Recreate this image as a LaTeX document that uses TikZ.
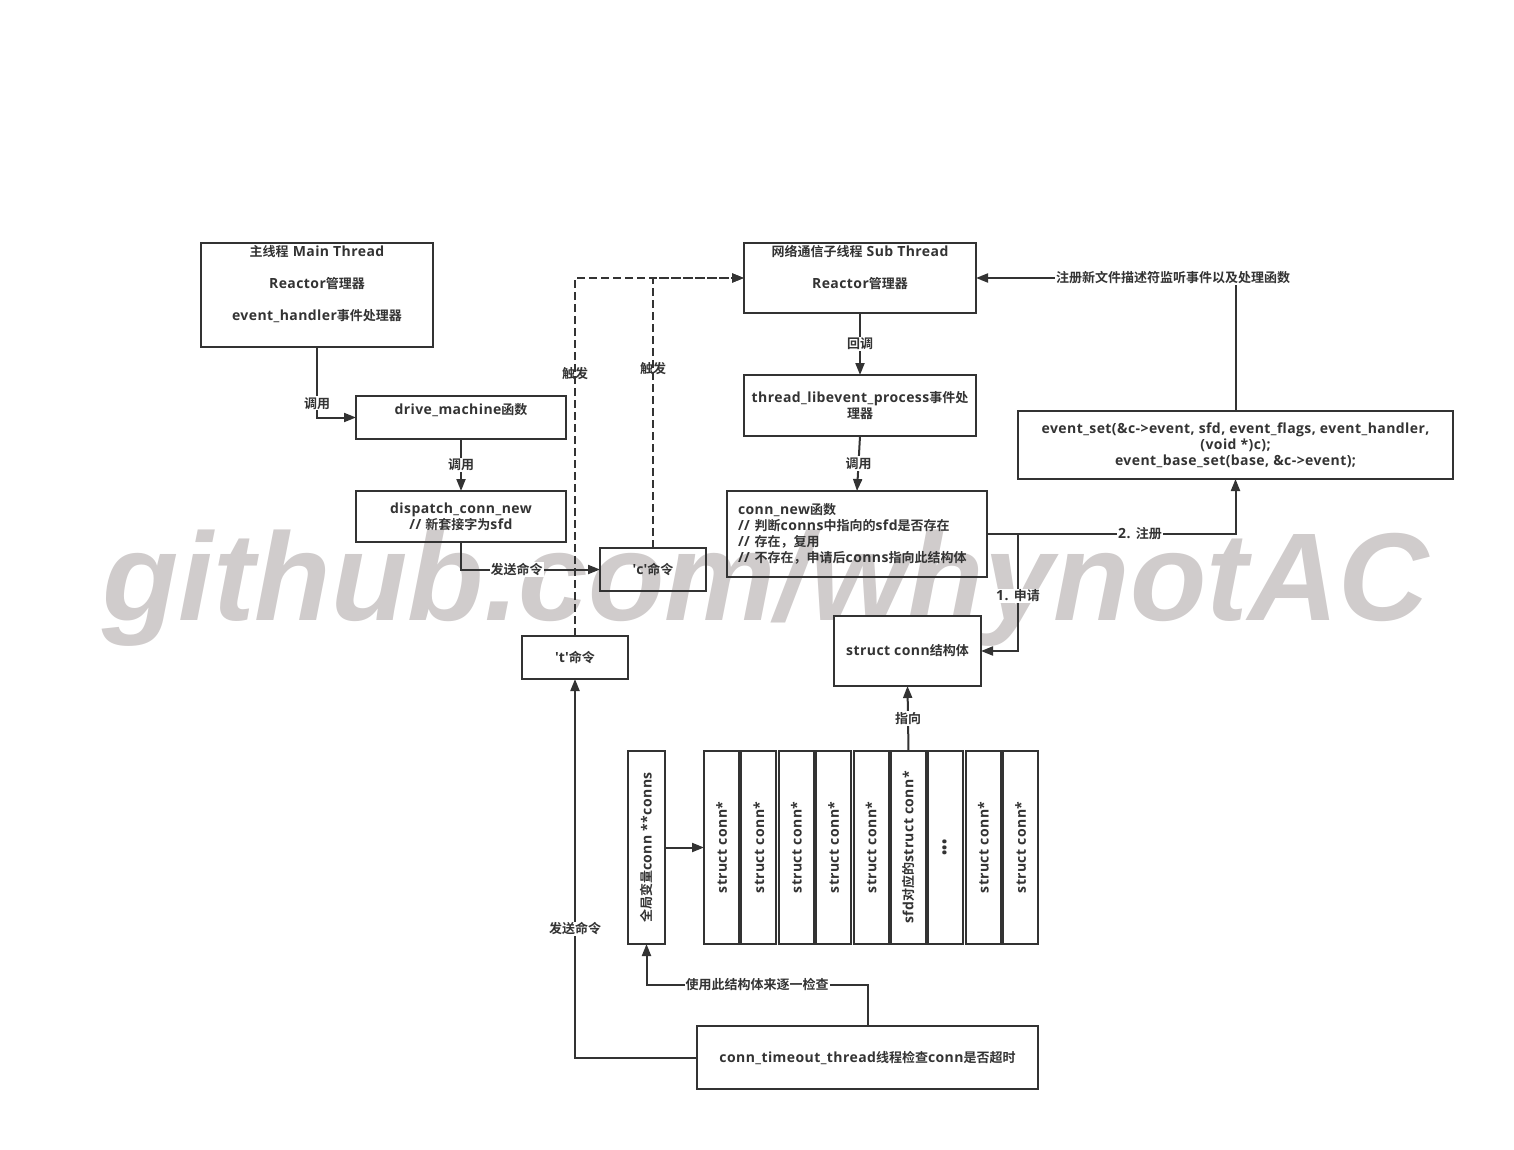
\documentclass[tikz,border=0pt]{standalone}
\usepackage{fontspec}
\usepackage{graphicx}
\setmainfont{Open Sans}[LetterSpace=3]
\newfontfamily\cjk{Noto Sans CJK SC}[BoldFont={Noto Sans CJK SC Bold}]
\newfontfamily\wmfont{Liberation Sans}
\newcommand\zh[1]{{\cjk\fontsize{13}{16}\selectfont #1}}
\usetikzlibrary{arrows.meta}
\definecolor{ln}{HTML}{333333}
\definecolor{wm}{HTML}{D0CCCC}
\tikzset{
  txt/.style={font=\fontsize{14}{16}\selectfont\bfseries, text=ln, align=center, inner sep=0pt},
  box/.style={txt, draw=ln, line width=2pt, outer sep=0pt},
  arr/.style={draw=ln, line width=2pt, -{Triangle[length=12pt,width=9pt]}},
  dsh/.style={arr, dash pattern=on 8pt off 4pt},
  lbl/.style={txt, fill=white, inner sep=1pt},
  dlbl/.style={txt},
  wmark/.style={font=\wmfont\bfseries\itshape\fontsize{125}{125}\selectfont, text=wm, inner sep=0pt, anchor=base west},
}
\begin{document}
\begin{tikzpicture}[x=1pt,y=-1pt]
\useasboundingbox (0,0) rectangle (1514,1150);

\node[wmark] (water) at (102,620) {github.com/whynotAC};

% main thread side
\node[box, minimum width=232pt, minimum height=104pt] (main) at (317,295) {};
\node[txt] (main-t) at (317,284) {\zh{主线程} Main Thread\\[16pt]Reactor\zh{管理器}\\[16pt]event\_handler\zh{事件处理器}};
\node[box, minimum width=210pt, minimum height=43pt] (drive) at (461,417.5) {};
\node[txt] (drive-t) at (461,410) {drive\_machine\zh{函数}};
\node[box, minimum width=210pt, minimum height=51pt] (dispatch) at (461,516.5) {dispatch\_conn\_new\\// \zh{新套接字为}sfd};
\node[box, minimum width=106pt, minimum height=43pt] (cmdc) at (653,569.5) {\textquotesingle c\textquotesingle\zh{命令}};
\node[box, minimum width=106pt, minimum height=43pt] (cmdt) at (575,657.5) {\textquotesingle t\textquotesingle\zh{命令}};

% sub thread side
\node[box, minimum width=232pt, minimum height=70pt] (sub) at (860,278) {};
\node[txt] (sub-t) at (860,267) {\zh{网络通信子线程} Sub Thread\\[16pt]Reactor\zh{管理器}};
\node[box, minimum width=232pt, minimum height=61pt] (thr) at (860,405.5) {thread\_libevent\_process\zh{事件处}\\\zh{理器}};
\node[box, minimum width=260pt, minimum height=86pt, align=left, text width=238pt] (cn) at (857,534) {conn\_new\zh{函数}\\// \zh{判断}conns\zh{中指向的}sfd\zh{是否存在}\\// \zh{存在，复用}\\// \zh{不存在，申请后}conns\zh{指向此结构体}};
\node[box, minimum width=435pt, minimum height=68pt] (evset) at (1235.5,445) {event\_set(\&c->event, sfd, event\_flags, event\_handler,\\(void *)c);\\event\_base\_set(base, \&c->event);};
\node[box, fill=white, minimum width=147pt, minimum height=70pt] (sconn) at (907.5,651) {struct conn\zh{结构体}};

% conns array
\node[box, minimum width=37pt, minimum height=193pt] (conns) at (646.5,847.5) {\rotatebox{90}{\zh{全局变量}conn **conns}};
\foreach \i/\t in {0/struct conn*,1/struct conn*,2/struct conn*,3/struct conn*,4/struct conn*,5/sfd\zh{对应的}struct conn*,6/\textbullet\textbullet\textbullet,7/struct conn*,8/struct conn*}
  \node[box, minimum width=35pt, minimum height=193pt] (cell\i) at ({721.5+37.4*\i},847.5) {\rotatebox{90}{\t}};
\node[box, minimum width=341pt, minimum height=63pt] (timeout) at (867.5,1057.5) {conn\_timeout\_thread\zh{线程检查}conn\zh{是否超时}};

% connectors
\draw[arr] (main.south) |- (drive.west) node[lbl, pos=0.4] {\zh{调用}};
\draw[arr] (drive.south) -- (dispatch.north) node[lbl, midway] {\zh{调用}};
\draw[arr] (dispatch.south) |- (cmdc.west) node[lbl, pos=0.7] {\zh{发送命令}};
\draw[dsh] (cmdt.north) |- (sub.west) node[dlbl, pos=0.367] {\zh{触发}};
\draw[dsh] (cmdc.north) |- (sub.west) node[dlbl, pos=0.333] {\zh{触发}};
\draw[arr] (sub.south) -- (thr.north) node[lbl, midway] {\zh{回调}};
\draw[arr] (thr.south) -- (cn.north) node[lbl, midway] {\zh{调用}};
\draw[arr] (evset.north) |- (sub.east) node[lbl, pos=0.62] {\zh{注册新文件描述符监听事件以及处理函数}};
\draw[arr] (cn.east) -| (evset.south) node[lbl, pos=0.308] {2. \zh{注册}};
\coordinate (apply) at (1018,534);
\draw[arr] (cn.east) -- (apply) |- (sconn.east) node[lbl, pos=0.265] {1. \zh{申请}};
\draw[arr] (cell5.north) -- (sconn.south) node[lbl, midway] {\zh{指向}};
\draw[arr] (conns) -- (cell0);
\coordinate (check) at (867.5,985);
\draw[arr] (timeout.north) -- (check) -| (conns.south) node[lbl, pos=0.25] {\zh{使用此结构体来逐一检查}};
\draw[arr] (timeout.west) -| (cmdt.south) node[lbl, pos=0.67] {\zh{发送命令}};
\end{tikzpicture}
\end{document}
